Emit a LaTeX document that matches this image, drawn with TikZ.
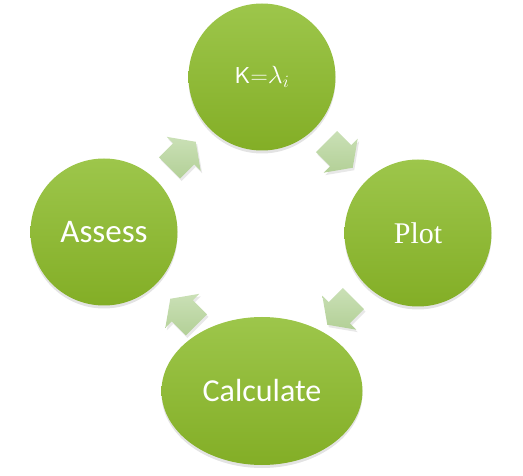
\documentclass[tikz,border=0pt]{standalone}
\usepackage{fontspec}
\setmainfont{Carlito}
\newfontfamily\plotfont{Liberation Serif}
\usetikzlibrary{calc,shadows,shapes.geometric}
\definecolor{gTop}{HTML}{9DC64B}
\definecolor{gBot}{HTML}{83AE26}
\definecolor{aTop}{HTML}{CAE0B6}
\definecolor{aBot}{HTML}{B3D097}
\tikzset{
  stage/.style={ellipse, inner sep=0pt, minimum width=147pt, minimum height=147pt,
    top color=gTop, bottom color=gBot, text=white,
    drop shadow={opacity=0.22, shadow xshift=0pt, shadow yshift=-3pt}},
  arrowfill/.style={top color=aTop, bottom color=aBot,
    drop shadow={opacity=0.18, shadow xshift=1.5pt, shadow yshift=-2.5pt}},
  barrow/.pic={\path[arrowfill] (-19,-15) -- (1,-15) -- (1,-24) -- (18,0) -- (1,24) -- (1,15) -- (-19,15) -- cycle;}
}
\begin{document}
\begin{tikzpicture}[x=1pt,y=-1pt]
\useasboundingbox (0,0) rectangle (523,476);
\node[stage, font=\plotfont\fontsize{30}{36}\selectfont] (plot) at (418,233) {Plot};
\node[stage, minimum width=201pt, minimum height=148pt, font=\fontsize{32}{38}\selectfont] (calc) at (262,391) {Calculate};
\node[stage, font=\fontsize{33}{40}\selectfont] (assess) at (104,232) {Assess};
\node[stage, font=\fontsize{23}{28}\selectfont] (top) at (262,77) {\scalebox{1.05}[1]{\textsf{\fontsize{23}{28}\selectfont K=}$\lambda_i$}};
\pic[rotate=-45] at ($(top)!0.5!(plot)$) {barrow};
\pic[rotate=-135] at ($(plot)!0.5!(calc)$) {barrow};
\pic[rotate=135] at ($(calc)!0.5!(assess)$) {barrow};
\pic[rotate=45] at ($(assess)!0.5!(top)$) {barrow};
\end{tikzpicture}
\end{document}
